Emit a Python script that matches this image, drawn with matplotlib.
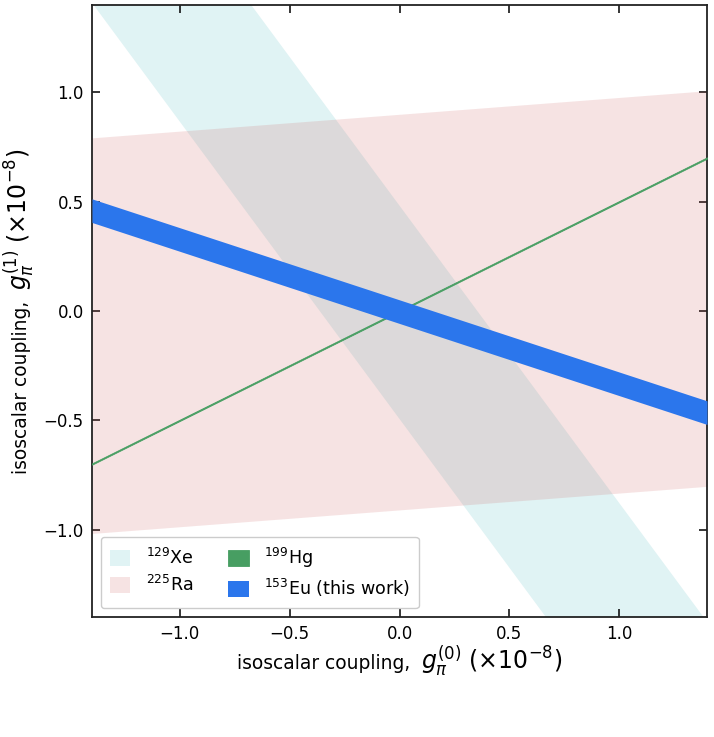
import numpy as np
import matplotlib
matplotlib.use("Agg")
import matplotlib.pyplot as plt

# Constraint bands: g1 = slope * g0 + center  (+/- half_width)   [units of 1e-8]
labels = [r"$^{129}$Xe", r"$^{225}$Ra", r"$^{199}$Hg", r"$^{153}$Eu (this work)"]
slopes = [-1.36, 0.077, 0.50, -0.33]
centers = [-0.006, -0.005, 0.0, -0.003]
half_widths = [0.488, 0.905, 0.003, 0.054]
colors = ["#e0f3f4", "#cd5c5c", "#479e62", "#2b76ec"]

xlim = (-1.4, 1.4)
ylim = (-1.4, 1.4)
xticks = [-1.0, -0.5, 0.0, 0.5, 1.0]
yticks = [-1.0, -0.5, 0.0, 0.5, 1.0]

xlabel_parts = ["isoscalar coupling,", r"$g_\pi^{(0)}$ ($\times10^{-8}$)"]
ylabel_parts = ["isoscalar coupling,", r"$g_\pi^{(1)}$ ($\times10^{-8}$)"]

W, H = 714, 737
fig = plt.figure(figsize=(W / 100, H / 100), dpi=100)
ax = fig.add_axes([92 / W, 120 / H, 615 / W, 612 / H])

x = np.linspace(xlim[0], xlim[1], 400)

xe_c = x * slopes[0] + centers[0]
ax.fill_between(x, xe_c - half_widths[0], xe_c + half_widths[0],
                color=colors[0], lw=0, label=labels[0], zorder=1)
ra_c = x * slopes[1] + centers[1]
ax.fill_between(x, ra_c - half_widths[1], ra_c + half_widths[1],
                color=colors[1], alpha=0.17, lw=0, label=labels[1], zorder=2)
hg_c = x * slopes[2] + centers[2]
ax.fill_between(x, hg_c - half_widths[2], hg_c + half_widths[2],
                facecolor=colors[2], edgecolor=colors[2], lw=0.6,
                label=labels[2], zorder=3)
eu_c = x * slopes[3] + centers[3]
ax.fill_between(x, eu_c - half_widths[3], eu_c + half_widths[3],
                color=colors[3], lw=0, label=labels[3], zorder=4)

ax.set_xlim(*xlim)
ax.set_ylim(*ylim)
ax.set_xticks(xticks)
ax.set_yticks(yticks)
ax.tick_params(direction="in", top=True, right=True, length=6, width=1.1,
               labelsize=12, pad=6)
for s in ax.spines.values():
    s.set_linewidth(1.3)
    s.set_color("#222222")

handles, labs = ax.get_legend_handles_labels()
ax.legend(handles, labs, loc="lower left", ncol=2, fontsize=12.6,
          handlelength=1.15, handleheight=1.05, columnspacing=2.0,
          handletextpad=0.9, borderpad=0.5, labelspacing=0.42,
          borderaxespad=0.0, framealpha=1.0, edgecolor="#cccccc",
          bbox_to_anchor=(9 / 615, 9 / 612))

# Axis labels: plain text part and (larger) math part, laid out side by side
TEXT_FS, MATH_FS, GAP = 13.4, 17.0, 11
renderer = fig.canvas.get_renderer()


def text_width(s, fs):
    t = fig.text(0, 0, s, fontsize=fs)
    w = t.get_window_extent(renderer).width
    t.remove()
    return w


def composite_label(parts, base, center, vertical):
    w1 = text_width(parts[0], TEXT_FS)
    w2 = text_width(parts[1], MATH_FS)
    start = center - (w1 + GAP + w2) / 2
    kw = dict(ha="left", va="baseline")
    if vertical:
        kw.update(rotation=90, rotation_mode="anchor")
        fig.text(base / W, start / H, parts[0], fontsize=TEXT_FS, **kw)
        fig.text(base / W, (start + w1 + GAP) / H, parts[1], fontsize=MATH_FS, **kw)
    else:
        fig.text(start / W, base / H, parts[0], fontsize=TEXT_FS, **kw)
        fig.text((start + w1 + GAP) / W, base / H, parts[1], fontsize=MATH_FS, **kw)


composite_label(xlabel_parts, base=68, center=399.5, vertical=False)
composite_label(ylabel_parts, base=27, center=H - 311, vertical=True)

fig.savefig("out.png", dpi=100)
